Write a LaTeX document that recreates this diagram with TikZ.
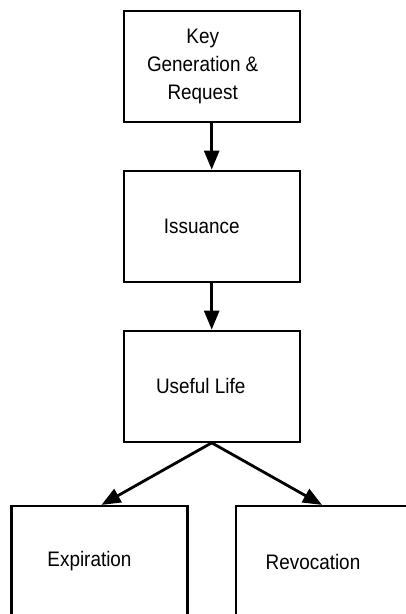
\documentclass[tikz,border=0pt]{standalone}
\usepackage{fontspec}
\setmainfont[FakeStretch=0.9]{Liberation Sans}
\usetikzlibrary{arrows.meta}
\begin{document}
\begin{tikzpicture}[x=1pt,y=-1pt,
  stagebox/.style={draw=black, line width=2.2pt, rectangle, inner sep=0pt,
    minimum width=176pt, minimum height=111pt},
  stagetext/.style={font=\fontsize{21}{28}\selectfont, align=center},
  flow/.style={line width=2.8pt, -{Triangle[length=19pt,width=15pt]}}]
  \useasboundingbox (0,0) rectangle (406,614);
  \clip (0,0) rectangle (406,614);
  % lifecycle stages
  \node[stagebox] (keygen) at (211.7,66.3) {};
  \node[stagetext] (keygentext) at ([xshift=-9pt]keygen.center) {Key\\Generation \&\\Request};
  \node[stagebox] (issue) at (211.7,226.2) {};
  \node[stagetext] (issuetext) at ([xshift=-10pt]issue.center) {Issuance};
  \node[stagebox] (useful) at (211.7,386.2) {};
  \node[stagetext] (usefultext) at ([xshift=-11pt]useful.center) {Useful Life};
  \node[stagebox] (expire) at (99.5,561.5) {};
  \node[stagetext] (expiretext) at ([xshift=-10pt]expire.center) {Expiration};
  \node[stagebox] (revoke) at (324,561.5) {};
  \node[stagetext] (revoketext) at ([xshift=-11pt]revoke.center) {Revocation};
  % transitions
  \draw[flow] (keygen.south) -- (issue.north);
  \draw[flow] (issue.south) -- (useful.north);
  \draw[flow] (useful.south) -- ([xshift=2pt]expire.north);
  \draw[flow] (useful.south) -- ([xshift=-2pt]revoke.north);
\end{tikzpicture}
\end{document}
